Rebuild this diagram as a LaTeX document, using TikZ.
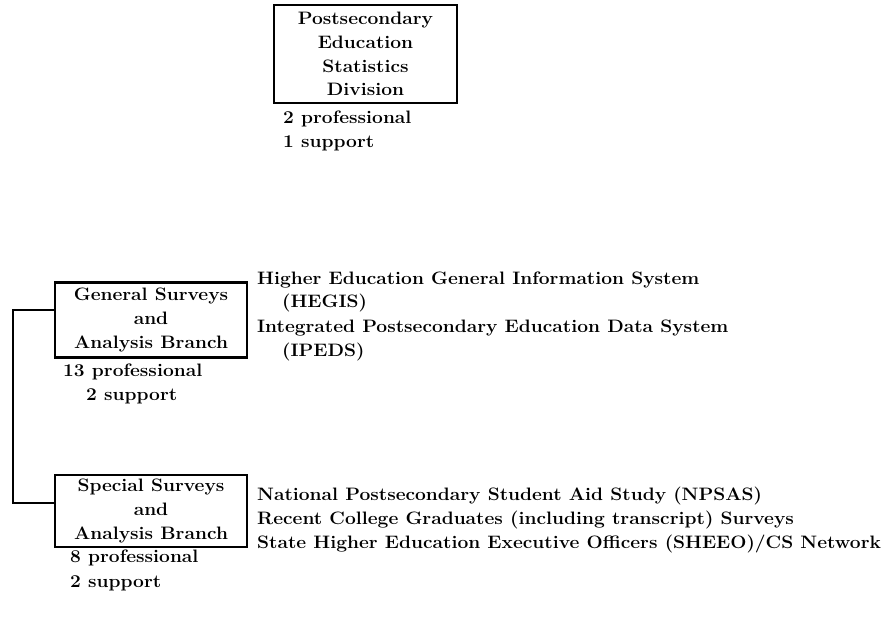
\documentclass[tikz,border=0pt]{standalone}
\usepackage{fontspec}
\setmainfont[FakeStretch=1.065]{Latin Modern Roman}
\begin{document}
\begin{tikzpicture}[x=1pt,y=-1pt,
  every node/.style={font=\fontsize{18}{23.8}\selectfont\bfseries,inner sep=0pt},
  box/.style={draw,line width=2.2pt,align=center},
  txt/.style={anchor=base west}]
\useasboundingbox (0,0) rectangle (885,626);
% division
\node[box,minimum width=183,minimum height=98] (div) at (365.5,54)
  {Postsecondary\\Education\\Statistics\\Division};
\node[txt] (divpro) at (283,123) {2 professional};
\node[txt] (divsup) at (283,147) {1 support};
% branches
\node[box,minimum width=192,minimum height=75] (gen) at (151,320)
  {General Surveys\\and\\Analysis Branch};
\node[txt] (genpro) at (63,376) {13 professional};
\node[txt] (gensup) at (86,400) {2 support};
\node[box,minimum width=192,minimum height=72] (spec) at (151,511)
  {Special Surveys\\and\\Analysis Branch};
\node[txt] (specpro) at (70,562) {8 professional};
\node[txt] (specsup) at (70,587) {2 support};
\draw[line width=2.2pt] ([yshift=10pt]gen.west) -- ++(-41,0) |- ([yshift=8pt]spec.west);
% surveys
\node[txt] (hegis) at (257,284) {Higher Education General Information System};
\node[txt] (hegisab) at (282,307) {(HEGIS)};
\node[txt] (ipeds) at (257,332) {Integrated Postsecondary Education Data System};
\node[txt] (ipedsab) at (282,356) {(IPEDS)};
\node[txt] (npsas) at (257,500) {National Postsecondary Student Aid Study (NPSAS)};
\node[txt] (rcg) at (257,524) {Recent College Graduates (including transcript) Surveys};
\node[txt] (sheeo) at (257,548) {State Higher Education Executive Officers (SHEEO)/CS Network};
\end{tikzpicture}
\end{document}
